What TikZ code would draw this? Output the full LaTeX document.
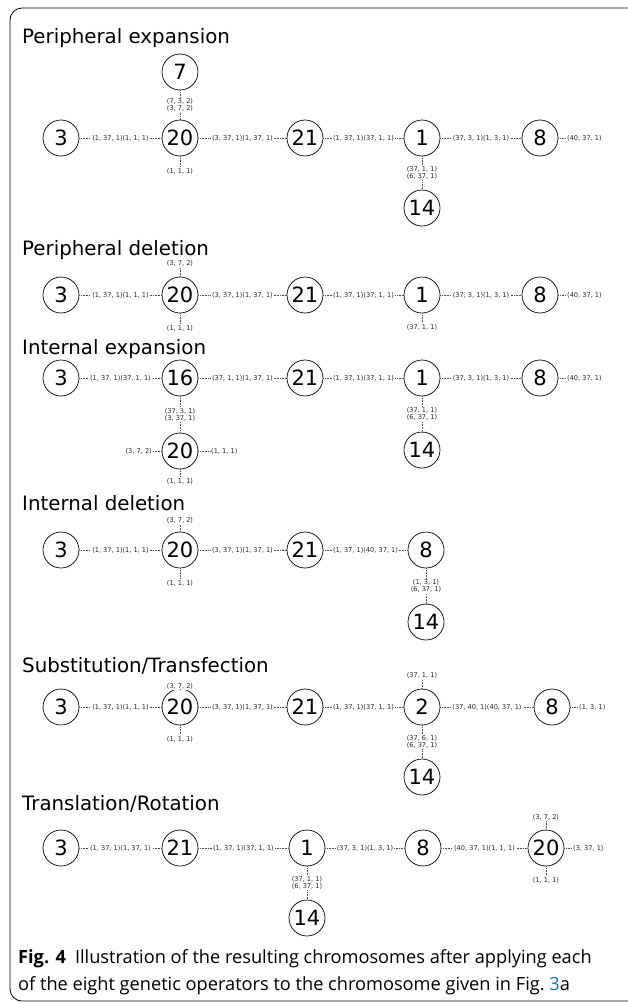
\documentclass[tikz,border=0pt]{standalone}
\usepackage{fontspec}
\setmainfont{DejaVu Sans}
\newfontfamily\capfont{Open Sans}
\definecolor{linkblue}{RGB}{30,110,200}
\begin{document}
\begin{tikzpicture}[x=1pt,y=-1pt,
        gene/.style={circle,draw,line width=0.7pt,minimum size=36pt,inner sep=0pt,font=\fontsize{21}{21}\selectfont},
        link/.style={densely dotted,line width=0.6pt,black!70},
        lab/.style={fill=white,inner sep=1pt,text=black!85,font=\fontsize{6.6}{7}\selectfont,align=center},
        title/.style={anchor=base west,inner sep=0pt,font=\fontsize{19.8}{21}\selectfont},
        captext/.style={anchor=base west,inner sep=0pt,font=\capfont\fontsize{18.2}{20}\selectfont}]
    \useasboundingbox (0,0) rectangle (627,1002);
    \draw[line width=0.8pt,rounded corners=12pt] (10,8) rectangle (660,1001);

    \node[title] (t1) at (22,43) {Peripheral expansion};
    \node[gene] (pe7) at (180,72) {7};
    \node[gene] (pe3) at (61,138) {3};
    \node[gene] (pe20) at (180,138) {20};
    \node[gene] (pe21) at (305,138) {21};
    \node[gene] (pe1) at (422,138) {1};
    \node[gene] (pe8) at (540,138) {8};
    \node[gene] (pe14) at (422,208) {14};
    \node[lab] (pe20b) at (180,171) {(1, 1, 1)};
    \node[lab,anchor=west] (pe8r) at (566,138) {(40, 37, 1)};
    \draw[link] (pe3) -- node[lab] {(1, 37, 1)(1, 1, 1)} (pe20);
    \draw[link] (pe20) -- node[lab] {(3, 37, 1)(1, 37, 1)} (pe21);
    \draw[link] (pe21) -- node[lab] {(1, 37, 1)(37, 1, 1)} (pe1);
    \draw[link] (pe1) -- node[lab] {(37, 3, 1)(1, 3, 1)} (pe8);
    \draw[link] (pe8) -- (pe8r);
    \draw[link] (pe7) -- node[lab] {(7, 3, 2)\\(3, 7, 2)} (pe20);
    \draw[link] (pe20) -- (pe20b);
    \draw[link] (pe1) -- node[lab] {(37, 1, 1)\\(6, 37, 1)} (pe14);

    \node[title] (t2) at (22,255) {Peripheral deletion};
    \node[gene] (pd3) at (61,295) {3};
    \node[gene] (pd20) at (180,295) {20};
    \node[gene] (pd21) at (305,295) {21};
    \node[gene] (pd1) at (422,295) {1};
    \node[gene] (pd8) at (540,295) {8};
    \node[lab] (pd20t) at (180,263) {(3, 7, 2)};
    \node[lab] (pd20b) at (180,328) {(1, 1, 1)};
    \node[lab] (pd1b) at (422,327) {(37, 1, 1)};
    \node[lab,anchor=west] (pd8r) at (566,295) {(40, 37, 1)};
    \draw[link] (pd3) -- node[lab] {(1, 37, 1)(1, 1, 1)} (pd20);
    \draw[link] (pd20) -- node[lab] {(3, 37, 1)(1, 37, 1)} (pd21);
    \draw[link] (pd21) -- node[lab] {(1, 37, 1)(37, 1, 1)} (pd1);
    \draw[link] (pd1) -- node[lab] {(37, 3, 1)(1, 3, 1)} (pd8);
    \draw[link] (pd8) -- (pd8r);
    \draw[link] (pd20) -- (pd20t);
    \draw[link] (pd20) -- (pd20b);
    \draw[link] (pd1) -- (pd1b);

    \node[title] (t3) at (22,354) {Internal expansion};
    \node[gene] (ie3) at (61,378) {3};
    \node[gene] (ie16) at (180,378) {16};
    \node[gene] (ie21) at (305,378) {21};
    \node[gene] (ie1) at (422,378) {1};
    \node[gene] (ie8) at (540,378) {8};
    \node[gene] (ie20) at (180,451) {20};
    \node[gene] (ie14) at (422,450) {14};
    \node[lab,anchor=east] (ie20l) at (153,451) {(3, 7, 2)};
    \node[lab,anchor=west] (ie20r) at (210,451) {(1, 1, 1)};
    \node[lab] (ie20b) at (180,481) {(1, 1, 1)};
    \node[lab,anchor=west] (ie8r) at (566,378) {(40, 37, 1)};
    \draw[link] (ie3) -- node[lab] {(1, 37, 1)(37, 1, 1)} (ie16);
    \draw[link] (ie16) -- node[lab] {(37, 1, 1)(1, 37, 1)} (ie21);
    \draw[link] (ie21) -- node[lab] {(1, 37, 1)(37, 1, 1)} (ie1);
    \draw[link] (ie1) -- node[lab] {(37, 3, 1)(1, 3, 1)} (ie8);
    \draw[link] (ie8) -- (ie8r);
    \draw[link] (ie16) -- node[lab] {(37, 3, 1)\\(3, 37, 1)} (ie20);
    \draw[link] (ie20) -- (ie20l);
    \draw[link] (ie20) -- (ie20r);
    \draw[link] (ie20) -- (ie20b);
    \draw[link] (ie1) -- node[lab] {(37, 1, 1)\\(6, 37, 1)} (ie14);

    \node[title] (t4) at (22,510) {Internal deletion};
    \node[gene] (id3) at (61,550) {3};
    \node[gene] (id20) at (180,550) {20};
    \node[gene] (id21) at (305,550) {21};
    \node[gene] (id8) at (426,550) {8};
    \node[gene] (id14) at (426,622) {14};
    \node[lab] (id20t) at (180,520) {(3, 7, 2)};
    \node[lab] (id20b) at (180,583) {(1, 1, 1)};
    \draw[link] (id3) -- node[lab] {(1, 37, 1)(1, 1, 1)} (id20);
    \draw[link] (id20) -- node[lab] {(3, 37, 1)(1, 37, 1)} (id21);
    \draw[link] (id21) -- node[lab] {(1, 37, 1)(40, 37, 1)} (id8);
    \draw[link] (id20) -- (id20t);
    \draw[link] (id20) -- (id20b);
    \draw[link] (id8) -- node[lab] {(1, 3, 1)\\(6, 37, 1)} (id14);

    \node[title] (t5) at (22,672) {Substitution/Transfection};
    \node[gene] (st3) at (61,707) {3};
    \node[gene] (st20) at (180,707) {20};
    \node[gene] (st21) at (305,707) {21};
    \node[gene] (st2) at (422,707) {2};
    \node[gene] (st8) at (552,707) {8};
    \node[gene] (st14) at (422,777) {14};
    \node[lab] (st20t) at (180,686) {(3, 7, 2)};
    \node[lab] (st20b) at (180,739) {(1, 1, 1)};
    \node[lab] (st2t) at (422,675) {(37, 1, 1)};
    \node[lab,anchor=west] (st8r) at (578,707) {(1, 3, 1)};
    \draw[link] (st3) -- node[lab] {(1, 37, 1)(1, 1, 1)} (st20);
    \draw[link] (st20) -- node[lab] {(3, 37, 1)(1, 37, 1)} (st21);
    \draw[link] (st21) -- node[lab] {(1, 37, 1)(37, 1, 1)} (st2);
    \draw[link] (st2) -- node[lab] {(37, 40, 1)(40, 37, 1)} (st8);
    \draw[link] (st8) -- (st8r);
    \draw[link] (st20) -- (st20t);
    \draw[link] (st20) -- (st20b);
    \draw[link] (st2) -- (st2t);
    \draw[link] (st2) -- node[lab] {(37, 6, 1)\\(6, 37, 1)} (st14);

    \node[title] (t6) at (22,810) {Translation/Rotation};
    \node[gene] (tr3) at (61,848) {3};
    \node[gene] (tr21) at (180,848) {21};
    \node[gene] (tr1) at (307,848) {1};
    \node[gene] (tr8) at (423,848) {8};
    \node[gene] (tr20) at (546,848) {20};
    \node[gene] (tr14) at (307,918) {14};
    \node[lab] (tr20t) at (546,817) {(3, 7, 2)};
    \node[lab] (tr20b) at (546,880) {(1, 1, 1)};
    \node[lab,anchor=west] (tr20r) at (572,848) {(3, 37, 1)};
    \draw[link] (tr3) -- node[lab] {(1, 37, 1)(1, 37, 1)} (tr21);
    \draw[link] (tr21) -- node[lab] {(1, 37, 1)(37, 1, 1)} (tr1);
    \draw[link] (tr1) -- node[lab] {(37, 3, 1)(1, 3, 1)} (tr8);
    \draw[link] (tr8) -- node[lab] {(40, 37, 1)(1, 1, 1)} (tr20);
    \draw[link] (tr20) -- (tr20r);
    \draw[link] (tr20) -- (tr20t);
    \draw[link] (tr20) -- (tr20b);
    \draw[link] (tr1) -- node[lab] {(37, 1, 1)\\(6, 37, 1)} (tr14);

    \node[captext] (c1) at (18,963) {\textbf{Fig. 4}\enspace Illustration of the resulting chromosomes after applying each};
    \node[captext] (c2) at (18,990) {of the eight genetic operators to the chromosome given in Fig.~\textcolor{linkblue}{3}a};
\end{tikzpicture}
\end{document}
